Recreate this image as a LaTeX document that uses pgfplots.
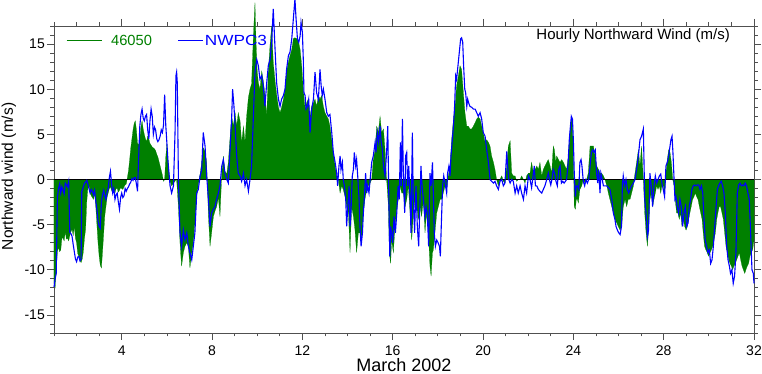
\documentclass[border=0pt]{standalone}
\usepackage{pgfplots}
\usepackage{pgfplotstable}
\pgfplotsset{compat=1.18}
\usepackage{fontspec}
\setmainfont{Liberation Sans}
\newfontfamily\widefont[FakeStretch=1.17]{Liberation Sans}
\definecolor{ngreen}{RGB}{0,128,0}
\definecolor{nblue}{RGB}{0,0,255}
\definecolor{axgray}{RGB}{80,80,80}

% 46050 hourly northward wind (m/s), day of March 2002
\pgfplotstableread{
d v
1.00 -11.5
1.05 -12.0
1.10 -10.0
1.15 -8.0
1.20 -7.5
1.25 -8.0
1.30 -7.8
1.35 -6.5
1.40 -6.5
1.45 -6.8
1.50 -5.8
1.55 -6.6
1.60 -6.5
1.65 -6.8
1.70 -6.2
1.75 -5.8
1.80 -5.5
1.85 -6.2
1.90 -5.2
1.95 -6.5
2.00 -7.0
2.05 -8.2
2.10 -8.5
2.15 -9.0
2.20 -9.2
2.25 -8.8
2.30 -8.0
2.35 -6.5
2.40 -5.5
2.45 -2.5
2.50 -1.0
2.55 -0.6
2.60 -1.5
2.65 -1.8
2.70 -2.0
2.75 -2.2
2.80 -1.5
2.85 -3.0
2.90 -5.0
2.95 -7.0
3.00 -8.5
3.05 -9.5
3.10 -9.8
3.15 -8.0
3.20 -6.0
3.25 -4.0
3.30 -3.0
3.35 -2.0
3.40 -1.5
3.45 -1.0
3.50 -0.8
3.55 -1.2
3.60 -1.5
3.65 -1.2
3.70 -1.5
3.75 -1.0
3.80 -1.0
3.85 -1.4
3.90 -1.2
3.95 -0.9
4.00 -1.0
4.05 -1.1
4.10 -0.8
4.15 -0.6
4.20 -0.5
4.25 0.2
4.30 1.0
4.35 2.2
4.40 3.5
4.45 4.5
4.50 5.5
4.55 6.2
4.60 6.5
4.65 5.5
4.70 4.0
4.75 3.8
4.80 4.5
4.85 5.8
4.90 6.5
4.95 5.6
5.00 5.0
5.05 4.5
5.10 4.2
5.15 4.8
5.20 4.5
5.25 4.0
5.30 3.8
5.35 3.6
5.40 3.5
5.45 3.4
5.50 3.2
5.55 2.8
5.60 2.5
5.65 2.0
5.70 1.5
5.75 1.0
5.80 0.5
5.85 -0.2
5.90 0.0
5.95 2.5
6.00 4.0
6.05 2.0
6.10 0.5
6.14 -0.2
6.21 -0.7
6.29 -0.4
6.36 -0.2
6.40 0.0
6.43 0.0
6.51 -3.0
6.58 -7.0
6.65 -9.6
6.73 -8.1
6.80 -7.4
6.88 -7.0
6.95 -7.4
7.02 -9.8
7.10 -8.1
7.17 -7.0
7.24 -4.8
7.32 -1.9
7.39 -0.6
7.47 0.6
7.54 1.9
7.61 3.5
7.69 3.1
7.76 1.9
7.84 -4.1
7.91 -7.4
7.98 -5.9
8.06 -4.1
8.13 -3.5
8.20 -3.0
8.28 -2.0
8.35 -4.1
8.43 0.6
8.50 2.6
8.57 0.9
8.65 0.6
8.72 1.9
8.79 4.4
8.87 7.0
8.94 5.9
9.02 7.4
9.09 5.9
9.16 7.4
9.24 6.5
9.31 4.1
9.39 5.9
9.46 4.1
9.53 7.0
9.61 9.1
9.68 10.0
9.75 10.6
9.83 15.9
9.90 19.6
9.95 15.0
10.00 12.0
10.05 10.7
10.12 10.0
10.20 12.0
10.27 10.9
10.34 9.4
10.42 7.0
10.49 12.0
10.57 15.0
10.64 17.0
10.71 13.0
10.79 10.9
10.86 9.4
10.94 8.0
11.01 7.4
11.08 8.0
11.16 8.9
11.23 10.0
11.30 12.0
11.38 13.0
11.45 13.7
11.53 14.4
11.60 15.6
11.67 15.7
11.75 15.6
11.82 15.4
11.90 14.4
11.97 12.6
12.04 10.0
12.12 7.8
12.19 8.5
12.26 8.9
12.34 7.0
12.41 8.1
12.49 8.5
12.56 8.9
12.63 8.1
12.71 9.3
12.78 8.9
12.85 9.3
12.93 8.1
13.00 7.4
13.08 7.0
13.15 6.7
13.22 5.9
13.30 4.4
13.37 3.0
13.45 1.5
13.52 0.4
13.59 0.0
13.67 -1.5
13.74 -0.7
13.81 -1.1
13.89 -1.9
13.96 -3.0
14.04 -3.7
14.11 -8.1
14.18 -3.0
14.26 -4.1
14.33 -5.6
14.40 -8.1
14.48 -5.9
14.55 -5.9
14.60 -7.0
14.66 -5.2
14.70 -3.7
14.77 -2.2
14.85 -1.1
14.92 -0.7
15.00 -0.4
15.07 0.0
15.14 2.2
15.22 3.3
15.29 5.9
15.36 5.2
15.44 7.0
15.51 5.2
15.59 5.6
15.66 3.3
15.73 0.0
15.81 -3.0
15.85 -8.1
15.91 -9.3
15.95 -6.7
16.03 -8.1
16.10 -5.2
16.18 -3.3
16.25 -2.2
16.32 -0.7
16.40 -1.5
16.47 -1.5
16.55 -3.0
16.62 -2.2
16.69 -0.7
16.77 -3.7
16.84 -6.7
16.91 -4.1
16.99 -2.2
17.06 -3.0
17.14 -4.4
17.21 -3.0
17.28 -4.1
17.36 -2.2
17.43 -5.9
17.50 -3.7
17.58 -5.9
17.65 -9.6
17.70 -10.7
17.76 -8.1
17.80 -7.8
17.87 -5.9
17.95 -3.7
18.02 -3.0
18.10 -2.2
18.17 -2.2
18.24 -1.5
18.32 -0.7
18.39 -1.1
18.46 0.4
18.54 1.5
18.61 4.4
18.69 6.7
18.76 8.1
18.83 10.4
18.91 11.5
18.98 12.6
19.05 12.2
19.13 9.6
19.20 7.4
19.28 5.9
19.35 5.9
19.42 5.6
19.50 5.6
19.57 5.9
19.65 6.3
19.72 6.7
19.79 6.9
19.87 6.7
19.94 5.9
20.01 5.2
20.09 4.1
20.16 4.4
20.24 4.1
20.31 3.7
20.38 2.6
20.46 1.9
20.53 1.1
20.60 0.0
20.68 -0.7
20.75 0.0
20.83 0.4
20.90 -0.2
20.97 -0.4
21.05 1.5
21.12 3.7
21.20 4.3
21.27 0.7
21.34 0.4
21.42 0.4
21.49 -0.2
21.56 0.0
21.64 0.0
21.71 0.4
21.79 0.0
21.86 -0.4
21.93 0.4
22.01 0.7
22.08 0.7
22.15 1.9
22.23 0.7
22.30 1.1
22.38 1.5
22.45 1.1
22.52 1.9
22.60 0.4
22.67 1.1
22.74 1.5
22.82 1.9
22.89 2.2
22.97 1.5
23.04 0.7
23.11 3.7
23.16 3.3
23.22 1.9
23.26 2.6
23.34 2.2
23.41 1.9
23.48 2.2
23.56 1.9
23.63 1.5
23.70 1.1
23.78 2.6
23.82 4.1
23.87 5.9
23.91 6.7
23.96 5.9
24.00 2.6
24.04 -3.0
24.09 -3.3
24.13 -2.2
24.18 -2.2
24.22 -2.6
24.29 -1.1
24.37 -0.7
24.44 0.0
24.52 -0.4
24.59 0.0
24.66 0.7
24.74 3.7
24.81 3.7
24.89 3.7
24.96 2.6
25.03 1.5
25.11 1.1
25.18 0.7
25.25 0.7
25.33 0.4
25.40 0.0
25.48 -0.7
25.55 -1.5
25.62 -2.2
25.70 -3.0
25.77 -3.7
25.84 -4.4
25.92 -4.8
25.99 -5.2
26.07 -5.6
26.14 -5.2
26.21 -3.0
26.29 -2.2
26.36 -3.0
26.43 -2.2
26.51 -2.2
26.58 -1.5
26.66 -0.7
26.73 0.7
26.80 1.9
26.88 3.3
26.95 1.5
27.02 3.7
27.10 0.0
27.16 -3.7
27.22 -5.9
27.28 -7.4
27.33 -5.6
27.39 -2.2
27.45 -1.5
27.51 -3.0
27.57 -2.2
27.63 -1.5
27.69 -0.7
27.75 -1.1
27.81 -0.7
27.87 -1.5
27.92 -0.7
27.98 -0.7
28.04 -1.5
28.10 0.7
28.16 2.2
28.22 3.3
28.28 3.0
28.34 1.9
28.40 0.0
28.46 -0.7
28.51 -2.2
28.57 -3.7
28.63 -3.7
28.69 -4.4
28.75 -3.7
28.81 -5.2
28.87 -4.4
28.93 -5.2
28.99 -5.6
29.05 -5.2
29.11 -4.4
29.16 -3.7
29.22 -3.0
29.28 -2.2
29.34 -1.9
29.40 -1.5
29.46 -1.9
29.52 -2.2
29.58 -3.0
29.64 -3.7
29.70 -4.4
29.75 -5.9
29.81 -7.4
29.87 -7.8
29.93 -8.1
29.99 -8.5
30.05 -8.1
30.11 -7.8
30.17 -7.4
30.23 -6.7
30.29 -5.9
30.35 -4.4
30.40 -3.7
30.46 -3.0
30.52 -3.0
30.58 -3.7
30.64 -4.4
30.70 -5.9
30.76 -7.4
30.82 -8.1
30.88 -8.9
30.94 -9.3
31.00 -9.6
31.05 -10.0
31.11 -9.6
31.17 -9.3
31.23 -8.9
31.29 -8.5
31.35 -8.1
31.41 -8.9
31.47 -9.6
31.53 -10.0
31.59 -10.4
31.64 -10.0
31.70 -9.6
31.76 -9.3
31.82 -8.5
31.88 -8.1
31.94 -7.8
32.00 -6.7
}\greendata

% NWPC3 hourly northward wind (m/s)
\pgfplotstableread{
d v
1.00 -11.9
1.05 -11.0
1.10 -10.4
1.15 -2.0
1.20 -1.0
1.25 -0.5
1.30 -1.5
1.35 -0.8
1.40 -1.2
1.45 -1.6
1.50 -0.4
1.55 -0.6
1.60 -0.8
1.65 -0.2
1.70 -5.9
1.75 -6.0
1.80 -6.3
1.85 -7.2
1.90 -8.0
1.95 -8.8
2.00 -9.1
2.05 -8.6
2.10 -8.5
2.15 -9.0
2.20 -8.8
2.23 -1.3
2.25 -1.2
2.30 -0.8
2.35 -0.4
2.40 -0.3
2.45 -0.1
2.50 -0.5
2.55 -1.0
2.60 -1.5
2.65 -1.1
2.70 -1.3
2.75 -1.7
2.80 -1.2
2.85 -2.4
2.90 -3.3
2.95 -4.6
3.00 -5.2
3.05 -5.4
3.10 -2.5
3.15 -1.7
3.20 -1.2
3.25 -1.8
3.30 -2.2
3.35 -1.4
3.40 -1.0
3.45 0.2
3.50 0.9
3.55 -0.5
3.60 -1.5
3.65 -1.0
3.70 -2.2
3.75 -1.7
3.80 -1.5
3.85 -2.5
3.90 -3.3
3.95 -2.0
4.00 -1.5
4.05 -2.0
4.10 -1.8
4.15 -1.0
4.20 -1.3
4.25 -1.0
4.30 -0.8
4.35 -0.5
4.40 -0.3
4.45 0.1
4.50 -0.1
4.55 0.2
4.60 0.2
4.65 -0.5
4.70 -1.3
4.75 2.5
4.80 5.9
4.85 7.2
4.90 7.8
4.95 6.8
5.00 6.5
5.05 7.0
5.10 7.2
5.15 5.5
5.20 4.5
5.25 6.5
5.30 7.8
5.35 7.0
5.40 5.0
5.45 5.8
5.50 5.5
5.55 4.5
5.60 4.2
5.65 4.4
5.70 4.8
5.75 5.5
5.80 5.2
5.85 6.0
5.90 9.4
5.95 6.0
6.00 4.0
6.05 2.0
6.10 0.5
6.14 -0.7
6.21 -1.5
6.29 -0.7
6.36 5.2
6.40 11.5
6.43 11.9
6.46 10.7
6.51 0.0
6.58 -5.9
6.65 -7.4
6.73 -5.6
6.80 -6.7
6.88 -5.9
6.95 -7.4
7.02 -8.1
7.10 -8.9
7.17 -7.4
7.24 -5.9
7.32 -1.5
7.39 -1.1
7.47 0.4
7.54 1.1
7.61 5.2
7.69 3.7
7.76 0.4
7.84 -2.2
7.91 -5.2
7.98 -3.7
8.06 -3.3
8.13 -3.0
8.20 -2.2
8.28 -1.5
8.35 -0.7
8.43 1.5
8.50 2.2
8.57 0.7
8.65 0.0
8.72 -0.4
8.79 3.0
8.87 7.0
8.91 10.0
8.97 8.1
9.02 5.9
9.09 2.6
9.16 0.7
9.24 0.4
9.31 -0.2
9.39 0.7
9.46 -0.7
9.53 0.0
9.61 -1.3
9.68 0.0
9.75 1.5
9.83 7.0
9.90 11.9
9.98 13.3
10.05 12.6
10.12 11.1
10.20 11.5
10.27 10.4
10.34 8.1
10.42 10.7
10.49 12.6
10.57 13.3
10.64 15.2
10.71 18.9
10.79 14.4
10.86 10.7
10.94 8.9
11.01 8.1
11.08 8.9
11.16 9.3
11.23 10.0
11.30 12.2
11.38 13.7
11.45 14.1
11.53 15.6
11.60 17.8
11.67 20.0
11.72 17.8
11.78 15.6
11.84 15.2
11.90 15.9
11.94 17.4
12.00 16.3
12.04 13.3
12.07 9.6
12.12 9.3
12.16 7.8
12.22 8.1
12.28 8.9
12.34 5.2
12.41 7.8
12.49 8.9
12.56 11.9
12.63 9.6
12.71 8.9
12.78 12.2
12.83 10.4
12.88 9.3
12.93 10.0
13.00 8.9
13.08 7.4
13.15 7.0
13.22 7.2
13.30 5.2
13.37 3.0
13.45 1.9
13.52 0.7
13.56 -0.7
13.62 1.5
13.67 2.6
13.71 1.1
13.77 1.9
13.81 0.0
13.86 -0.7
13.92 -2.2
13.96 -5.2
14.01 -3.0
14.07 -0.7
14.11 -5.2
14.15 -3.7
14.21 0.4
14.26 1.1
14.30 3.0
14.36 1.5
14.40 2.2
14.45 0.4
14.51 -2.2
14.55 -5.2
14.60 -7.4
14.66 -5.9
14.70 -3.7
14.74 -2.2
14.80 0.7
14.85 -1.5
14.89 -0.7
14.95 -1.5
15.00 0.0
15.07 1.9
15.14 2.6
15.22 4.1
15.26 3.0
15.32 5.2
15.38 4.1
15.44 5.9
15.48 4.4
15.54 3.3
15.59 1.5
15.66 0.4
15.73 3.0
15.78 5.9
15.82 -0.7
15.87 -8.5
15.91 -5.2
15.95 -5.9
16.00 -7.0
16.06 -4.1
16.12 -5.9
16.18 -3.7
16.24 -0.7
16.29 -2.2
16.34 4.1
16.38 -0.7
16.43 6.7
16.47 0.7
16.53 -3.7
16.57 2.6
16.62 3.0
16.66 -0.7
16.71 1.5
16.77 -2.2
16.81 -5.9
16.87 5.2
16.91 -2.2
16.97 -5.9
17.03 -0.7
17.09 -5.2
17.15 -7.4
17.21 -2.2
17.25 1.5
17.30 -0.7
17.36 -2.2
17.42 -4.1
17.48 -3.0
17.53 -3.7
17.59 -7.4
17.65 0.7
17.70 -0.7
17.76 1.9
17.80 -1.5
17.84 -5.9
17.89 -7.4
17.95 -6.7
18.01 -7.0
18.07 -7.4
18.11 -8.5
18.15 -5.2
18.21 -0.7
18.26 0.4
18.32 -0.4
18.39 -1.5
18.43 0.7
18.49 1.5
18.54 0.4
18.58 2.6
18.64 4.4
18.69 5.9
18.74 8.1
18.79 11.5
18.83 11.1
18.89 12.6
18.95 14.1
19.01 15.6
19.05 15.7
19.10 15.2
19.14 12.6
19.19 10.0
19.23 9.6
19.28 8.1
19.32 8.9
19.36 8.5
19.42 8.1
19.50 8.0
19.57 7.8
19.65 7.8
19.72 7.4
19.79 7.0
19.87 7.4
19.94 6.7
20.01 5.2
20.09 4.8
20.16 3.3
20.24 1.9
20.31 0.0
20.38 -0.2
20.46 -0.4
20.53 -0.2
20.60 -0.7
20.68 -1.1
20.75 -0.2
20.83 0.0
20.90 -0.7
20.97 -0.4
21.05 3.1
21.09 1.5
21.14 0.0
21.20 -0.4
21.27 0.0
21.34 -0.2
21.42 -1.5
21.49 -0.7
21.56 -1.5
21.64 -0.7
21.71 -1.5
21.79 -2.2
21.86 -0.7
21.93 -1.5
22.01 0.4
22.08 0.0
22.15 -0.9
22.23 0.7
22.27 1.5
22.32 -0.7
22.38 -0.7
22.45 -1.1
22.52 -1.3
22.60 -1.5
22.67 -1.1
22.74 -0.7
22.82 0.0
22.89 0.7
22.94 0.0
23.00 -0.6
23.05 0.0
23.11 1.1
23.17 0.7
23.23 -0.2
23.29 -0.7
23.35 1.1
23.41 1.5
23.47 -0.4
23.53 -0.2
23.59 -0.4
23.65 -0.2
23.70 0.0
23.76 1.5
23.82 4.4
23.87 5.9
23.91 7.0
23.96 6.7
24.00 4.4
24.04 0.7
24.09 -1.9
24.13 -0.7
24.18 -0.7
24.24 -1.1
24.29 1.9
24.34 2.2
24.38 1.5
24.44 -0.2
24.50 -0.7
24.56 0.0
24.62 -0.4
24.68 0.0
24.74 1.5
24.80 3.0
24.86 3.3
24.91 3.0
24.97 3.3
25.03 0.7
25.08 -0.4
25.12 1.1
25.18 -1.5
25.22 0.7
25.28 0.0
25.33 -0.7
25.40 -0.7
25.48 -0.7
25.55 -0.9
25.62 -1.1
25.70 -2.2
25.77 -3.7
25.84 -4.4
25.89 -5.2
25.95 -5.6
26.01 -5.9
26.07 -6.1
26.13 -5.2
26.17 -0.7
26.21 0.4
26.27 -0.7
26.33 0.0
26.39 -1.1
26.45 -1.5
26.51 -1.1
26.58 -0.7
26.66 -0.4
26.73 0.0
26.80 1.1
26.88 2.6
26.95 4.4
27.02 4.8
27.10 5.6
27.16 -2.2
27.22 -3.7
27.28 -6.3
27.33 -5.6
27.39 0.7
27.45 -0.7
27.51 -3.0
27.57 -0.7
27.63 0.4
27.69 -0.4
27.75 0.0
27.81 0.4
27.87 0.6
27.92 -0.4
27.98 -1.1
28.04 -1.9
28.10 1.5
28.16 1.9
28.22 2.6
28.28 3.7
28.32 4.4
28.37 4.8
28.41 3.0
28.46 0.0
28.50 -2.2
28.54 -1.9
28.60 -3.0
28.66 -3.7
28.72 -2.2
28.78 -3.0
28.84 -5.2
28.90 -3.7
28.96 -3.0
29.02 -5.2
29.08 -4.8
29.13 -3.0
29.19 -2.2
29.25 -1.1
29.31 -0.7
29.37 -0.6
29.43 -0.7
29.49 -0.6
29.55 -0.6
29.61 -1.1
29.67 -0.7
29.73 -1.5
29.78 -4.1
29.84 -6.7
29.90 -7.4
29.96 -8.1
30.02 -7.8
30.08 -9.3
30.14 -8.9
30.20 -7.4
30.26 -5.2
30.32 -3.0
30.38 -1.1
30.43 -0.7
30.49 -0.4
30.55 -0.2
30.61 -0.7
30.67 -1.5
30.73 -3.7
30.79 -7.4
30.85 -8.9
30.91 -9.6
30.96 -10.4
31.02 -10.0
31.08 -11.5
31.14 -10.7
31.20 -8.1
31.26 -1.5
31.32 -0.6
31.38 -0.4
31.44 -0.7
31.50 -0.6
31.56 -0.7
31.61 -0.4
31.67 -0.7
31.73 -1.5
31.79 -2.2
31.85 -5.9
31.91 -10.0
31.97 -10.4
32.00 -11.5
}\bluedata

\begin{document}
\begin{tikzpicture}
\begin{axis}[
  at={(0pt,0pt)}, anchor=south west,
  scale only axis, width=700pt, height=307pt,
  xmin=1, xmax=32, ymin=-17, ymax=17,
  xtick={4,8,...,32}, minor xtick={1,...,32},
  ytick={-15,-10,...,15}, minor ytick={-17,...,17},
  tick align=outside,
  major tick length=7pt, minor tick length=3.5pt,
  every tick/.style={axgray, line width=0.8pt},
  axis line style={axgray, line width=0.9pt},
  clip=false,
  tick label style={font=\fontsize{14}{16}\selectfont, inner sep=1pt},
  /pgf/number format/assume math mode=true,
  xticklabel style={yshift=-5pt},
  yticklabel style={xshift=-1pt},
  xlabel={March 2002},
  ylabel={Northward wind (m/s)},
  every axis x label/.style={at={(rel axis cs:0.5,0)}, anchor=base, yshift=-38pt, inner sep=0pt, font=\fontsize{18}{20}\selectfont},
  every axis y label/.style={at={(rel axis cs:0,0.51)}, xshift=-41pt, rotate=90, anchor=base, inner sep=0pt, font=\fontsize{15.5}{17}\selectfont},
  legend columns=2,
  legend style={draw=none, fill=none, at={(rel axis cs:0,1)}, anchor=north west, xshift=12pt, yshift=-9pt,
    font=\fontsize{14.7}{16}\selectfont, inner sep=0pt, column sep=0pt,
    nodes={inner sep=0pt, anchor=base west},
    /tikz/every even column/.append style={column sep=26pt}},
]
\addplot[forget plot, fill=ngreen, draw=ngreen, line width=0.2pt] table[x=d, y=v] {\greendata} \closedcycle;
\addplot[forget plot, black, line width=0.8pt] coordinates {(1,0) (32,0)};
\addplot[forget plot, nblue, line width=1.1pt] table[x=d, y=v] {\bluedata};
\addlegendimage{legend image code/.code={\draw[ngreen, line width=0.9pt] (0pt,5.2pt) -- (35pt,5.2pt);}}
\addlegendentry{\hspace*{9pt}\textcolor{ngreen}{46050}}
\addlegendimage{legend image code/.code={\draw[nblue, line width=0.9pt] (0pt,5.2pt) -- (25pt,5.2pt);}}
\addlegendentry{\hspace*{1pt}\textcolor{nblue}{\widefont NWPC3}}
\node[anchor=base east, inner sep=0pt, font=\fontsize{15}{17}\selectfont] at (rel axis cs:0.9657,0.9567) {Hourly Northward Wind (m/s)};
\end{axis}
\pgfresetboundingbox
\path[use as bounding box] (-54pt,-41pt) rectangle (708pt,333pt);
\end{tikzpicture}
\end{document}
